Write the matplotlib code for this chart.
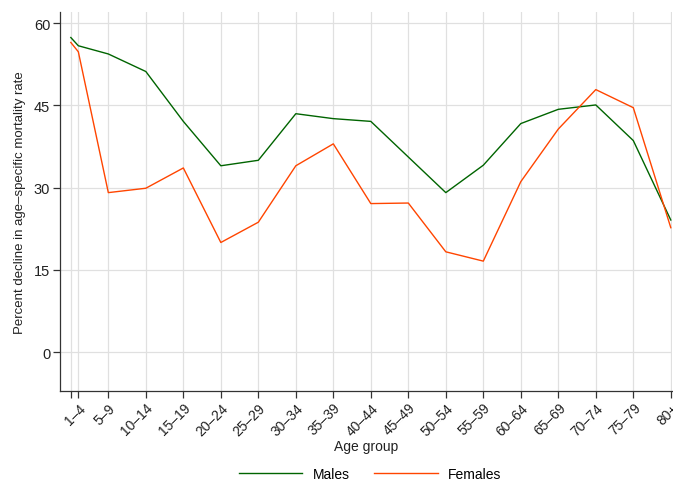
import matplotlib
matplotlib.use("Agg")
import matplotlib.pyplot as plt

# Age group start (0 = infants, unlabeled tick)
ages = [0, 1, 5, 10, 15, 20, 25, 30, 35, 40, 45, 50, 55, 60, 65, 70, 75, 80]
age_labels = ["", "1–4", "5–9", "10–14", "15–19", "20–24", "25–29", "30–34", "35–39",
              "40–44", "45–49", "50–54", "55–59", "60–64", "65–69", "70–74", "75–79", "80+"]

males = [57.4, 55.9, 54.4, 51.2, 42.1, 34.0, 35.0, 43.5, 42.6, 42.1, 35.6, 29.1,
         34.1, 41.7, 44.3, 45.1, 38.6, 24.1]
females = [56.5, 54.8, 29.1, 29.9, 33.6, 20.0, 23.7, 34.0, 38.0, 27.1, 27.2, 18.3,
           16.6, 31.1, 40.7, 47.9, 44.6, 22.7]

yticks = [0, 15, 30, 45, 60]

plt.rcParams['font.family'] = ['Liberation Sans', 'DejaVu Sans']

fig = plt.figure(figsize=(6.73, 4.81), dpi=100)
ax = fig.add_axes([0.0892, 0.1857, 0.9093, 0.7866])

ax.plot(ages, males, color='#006400', lw=1.0, label='Males', zorder=3)
ax.plot(ages, females, color='#ff4500', lw=1.0, label='Females', zorder=3)

ax.set_xlim(-1.44, 80.16)
ax.set_ylim(-7.04, 62.0)

ax.set_xticks(ages)
ax.set_xticklabels(age_labels, rotation=45, ha='right', rotation_mode='anchor', fontsize=10)
ax.set_yticks(yticks)
ax.set_yticklabels([str(v) for v in yticks], fontsize=10.5)

ax.grid(True, color='#e0e0e0', lw=0.9, zorder=0)
ax.set_axisbelow(True)

for s in ['top', 'right']:
    ax.spines[s].set_visible(False)
for s in ['left', 'bottom']:
    ax.spines[s].set_color('#333333')
    ax.spines[s].set_linewidth(0.9)
ax.tick_params(direction='out', length=5, width=0.9, color='#333333', labelcolor='#222222', pad=2)

ax.set_xlabel('Age group', fontsize=10, labelpad=1, color='#222222')
ax.set_ylabel('Percent decline in age–specific mortality rate', fontsize=9.5, labelpad=6, color='#222222')

fig.legend(loc='center', bbox_to_anchor=(0.55, 0.0135), ncol=2, frameon=False,
           fontsize=10, handlelength=4.6, columnspacing=1.8, handletextpad=0.72)

fig.savefig('out.png', dpi=100)
